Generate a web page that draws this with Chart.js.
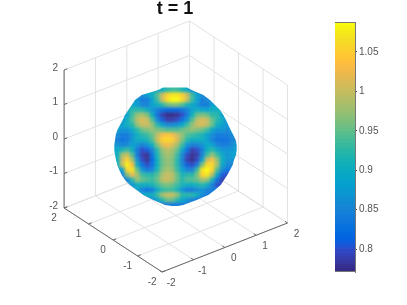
<!DOCTYPE html>
<html>
<head>
<meta charset="utf-8">
<script src="https://cdn.jsdelivr.net/npm/chart.js@4"></script>
<style>
html, body { margin: 0; padding: 0; background: #fff; overflow: hidden; }
canvas { position: absolute; top: 0; }
#scene { left: 0; filter: blur(0.35px); }
#bar { left: 320px; filter: blur(0.35px); }
#ball { position: absolute; left: 0; top: 0; width: 350px; height: 305px; }
#surface { left: 0; filter: blur(1.6px); }
</style>
</head>
<body>
<canvas id="scene" width="350" height="305"></canvas>
<div id="ball"><canvas id="surface" width="350" height="305"></canvas></div>
<canvas id="bar" width="87" height="305"></canvas>
<script>
const titleText = 't = 1';
const axisTicks = [-2, -1, 0, 1, 2];
const colorTicks = [0.8, 0.85, 0.9, 0.95, 1, 1.05];
const colorMin = 0.771;
const colorMax = 1.088;

const parula = [
    [0.2081, 0.1663, 0.5292], [0.2116, 0.1898, 0.5777], [0.2123, 0.2138, 0.6270], [0.2081, 0.2386, 0.6771],
    [0.1959, 0.2645, 0.7279], [0.1707, 0.2919, 0.7792], [0.1253, 0.3242, 0.8303], [0.0591, 0.3598, 0.8683],
    [0.0117, 0.3875, 0.8820], [0.0060, 0.4086, 0.8828], [0.0165, 0.4266, 0.8786], [0.0329, 0.4430, 0.8720],
    [0.0498, 0.4586, 0.8641], [0.0629, 0.4737, 0.8554], [0.0723, 0.4887, 0.8467], [0.0779, 0.5040, 0.8384],
    [0.0793, 0.5200, 0.8312], [0.0749, 0.5375, 0.8263], [0.0641, 0.5570, 0.8240], [0.0488, 0.5772, 0.8228],
    [0.0343, 0.5966, 0.8199], [0.0265, 0.6137, 0.8135], [0.0239, 0.6287, 0.8038], [0.0231, 0.6418, 0.7913],
    [0.0228, 0.6535, 0.7768], [0.0267, 0.6642, 0.7607], [0.0384, 0.6743, 0.7436], [0.0590, 0.6838, 0.7254],
    [0.0843, 0.6928, 0.7062], [0.1133, 0.7015, 0.6859], [0.1453, 0.7098, 0.6646], [0.1801, 0.7177, 0.6424],
    [0.2178, 0.7250, 0.6193], [0.2586, 0.7317, 0.5954], [0.3022, 0.7376, 0.5712], [0.3482, 0.7424, 0.5473],
    [0.3953, 0.7459, 0.5244], [0.4420, 0.7481, 0.5033], [0.4871, 0.7491, 0.4840], [0.5300, 0.7491, 0.4661],
    [0.5709, 0.7485, 0.4494], [0.6099, 0.7473, 0.4337], [0.6473, 0.7456, 0.4188], [0.6834, 0.7435, 0.4044],
    [0.7184, 0.7411, 0.3905], [0.7525, 0.7384, 0.3768], [0.7858, 0.7356, 0.3633], [0.8185, 0.7327, 0.3498],
    [0.8507, 0.7299, 0.3360], [0.8824, 0.7274, 0.3217], [0.9139, 0.7258, 0.3063], [0.9450, 0.7261, 0.2886],
    [0.9739, 0.7314, 0.2666], [0.9938, 0.7455, 0.2403], [0.9990, 0.7653, 0.2164], [0.9955, 0.7861, 0.1967],
    [0.9880, 0.8066, 0.1794], [0.9789, 0.8271, 0.1633], [0.9697, 0.8481, 0.1475], [0.9626, 0.8705, 0.1309],
    [0.9589, 0.8949, 0.1132], [0.9598, 0.9218, 0.0948], [0.9661, 0.9514, 0.0755], [0.9763, 0.9831, 0.0538]
];

// surface colour as seen from the camera, one row per 5px of picture, read by eye
const _ = null;
const surfaceRows = [
    [_, _, _, _, _, _, _, _, .88, .9, .92, .93, .93, .91, .89, .86, _, _, _, _, _, _, _, _, _],
    [_, _, _, _, _, .86, .88, .9, .94, 1.0, 1.05, 1.07, 1.07, 1.05, 1.0, .93, .88, .86, _, _, _, _, _, _, _],
    [_, _, _, _, .87, .84, .84, .88, .93, 1.0, 1.06, 1.085, 1.085, 1.06, 1.0, .93, .88, .84, .86, _, _, _, _, _, _],
    [_, _, _, .88, .88, .85, .85, .88, .9, .92, .95, .96, .96, .94, .91, .89, .87, .84, .84, .88, _, _, _, _, _],
    [_, _, .9, .92, .92, .92, .9, .87, .85, .83, .82, .82, .82, .83, .85, .88, .9, .89, .88, .9, .9, _, _, _, _],
    [_, _, .88, .93, .97, .98, .96, .9, .83, .79, .775, .775, .78, .8, .84, .9, .95, .96, .95, .92, .92, .88, _, _, _],
    [_, .87, .9, .94, .99, 1.01, 1.0, .94, .86, .81, .79, .79, .8, .83, .87, .94, .99, 1.01, 1.0, .95, .92, .9, .86, _, _],
    [_, .88, .9, .92, .97, 1.0, 1.0, .97, .92, .88, .86, .86, .87, .89, .93, .97, 1.0, 1.01, .99, .95, .9, .88, .87, _, _],
    [.88, .87, .87, .89, .92, .95, .96, .97, .96, .95, .94, .94, .94, .95, .96, .97, .96, .95, .93, .89, .87, .87, .86, .87, _],
    [.86, .84, .84, .87, .9, .92, .93, .95, .99, 1.03, 1.04, 1.03, 1.0, .97, .94, .93, .92, .91, .88, .86, .84, .84, .84, .86, _],
    [.85, .83, .84, .87, .9, .9, .91, .94, 1.0, 1.05, 1.06, 1.05, 1.01, .96, .92, .9, .9, .9, .88, .85, .83, .83, .83, .85, _],
    [.87, .85, .86, .88, .87, .85, .87, .9, .96, 1.01, 1.03, 1.01, .98, .93, .87, .85, .85, .87, .89, .88, .85, .84, .84, .86, .88],
    [.89, .91, .93, .9, .84, .8, .81, .85, .92, .97, .99, .98, .95, .89, .83, .79, .8, .84, .9, .92, .89, .87, .87, .87, .88],
    [.9, .98, 1.0, .94, .84, .79, .78, .83, .91, .96, .98, .97, .93, .86, .8, .78, .79, .85, .93, .97, .93, .89, .87, .88, _],
    [.9, 1.0, 1.05, .98, .87, .8, .78, .82, .9, .95, .97, .96, .92, .85, .79, .775, .8, .88, 1.0, 1.03, .97, .9, .87, .87, _],
    [.9, 1.0, 1.08, 1.03, .9, .83, .8, .83, .9, .95, .97, .96, .92, .86, .81, .8, .84, .96, 1.06, 1.06, .98, .89, .86, .85, _],
    [_, .88, 1.05, 1.07, .95, .87, .84, .85, .91, .96, .98, .97, .93, .88, .85, .85, .93, 1.07, 1.085, 1.05, .94, .86, .83, _, _],
    [_, .85, .96, 1.02, .98, .93, .92, .92, .94, .98, 1.0, .99, .95, .91, .92, .92, .96, 1.05, 1.07, .99, .89, .81, .8, _, _],
    [_, _, .85, .92, .97, .95, .94, .93, .95, .99, 1.0, .99, .95, .92, .94, .94, .95, .98, .97, .91, .83, .79, _, _, _],
    [_, _, _, .87, .9, .9, .9, .91, .93, .95, .96, .95, .93, .91, .9, .9, .91, .92, .9, .85, .8, _, _, _, _],
    [_, _, _, _, .88, .85, .83, .84, .89, .92, .93, .93, .91, .87, .84, .84, .86, .87, .85, .84, _, _, _, _, _],
    [_, _, _, _, _, .88, .9, .9, .93, .98, 1.0, 1.0, .97, .92, .92, .92, .9, .86, .84, _, _, _, _, _, _],
    [_, _, _, _, _, _, _, .86, .88, .92, .95, .95, .92, .89, .87, .85, .84, _, _, _, _, _, _, _, _],
    [_, _, _, _, _, _, _, _, _, _, .84, .84, .84, .84, _, _, _, _, _, _, _, _, _, _, _]
];

// silhouette of the ball per row of the list above
const outlineLeft = [158.3, 141.7, 135, 131.7, 128.3, 125, 122.7, 120, 117.3, 115.7, 115, 114.3, 114.3, 115, 116, 117.3, 119.3, 121.7, 125, 130, 136.7, 143.3, 153.3, 165];
const outlineRight = [191.7, 203.3, 210, 215, 220, 223.3, 226, 228.3, 230.7, 233.3, 235.7, 236.7, 236.7, 236, 234, 232.7, 230, 227.3, 224, 220.7, 215, 208.3, 196.7, 183.3];
const outlineTop = 87.5;
const outlineBottom = 206;

// where the cells of the ball sit, in scene units
const surfaceLeft = 117.3;
const surfaceTop = 90;
const cellSize = 5;

// fixed MATLAB style camera (view(3)), gives scene units from data units
function project(x, y, z) {
    return {
        x: 175.8 + 31.35 * x - 24.5 * y,
        y: 215.5 - 12.25 * x - 16 * y - 34.5 * (z + 2)
    };
}

function colorOf(v) {
    var i = Math.floor((v - colorMin) / (colorMax - colorMin) * parula.length);
    i = Math.max(0, Math.min(parula.length - 1, i));
    var c = parula[i];
    return 'rgb(' + Math.round(c[0] * 255) + ',' + Math.round(c[1] * 255) + ',' + Math.round(c[2] * 255) + ')';
}

// grid lines on the two back walls and the floor, null breaks the line
const gridData = [];
function segment(list, a, b) {
    list.push(project(a[0], a[1], a[2]), project(b[0], b[1], b[2]), { x: null, y: null });
}
axisTicks.forEach(function (t) {
    segment(gridData, [t, -2, -2], [t, 2, -2]);
    segment(gridData, [-2, t, -2], [2, t, -2]);
    segment(gridData, [t, 2, -2], [t, 2, 2]);
    segment(gridData, [-2, 2, t], [2, 2, t]);
    segment(gridData, [2, t, -2], [2, t, 2]);
    segment(gridData, [2, -2, t], [2, 2, t]);
});

const axisData = [];
segment(axisData, [-2, 2, -2], [-2, 2, 2]);
segment(axisData, [-2, 2, -2], [-2, -2, -2]);
segment(axisData, [-2, -2, -2], [2, -2, -2]);
axisTicks.forEach(function (t) {
    segment(axisData, [-2, 2, t], [-1.9, 2, t]);
    segment(axisData, [-2, t, -2], [-1.9, t, -2]);
    segment(axisData, [t, -2, -2], [t, -1.9, -2]);
});

// the edge cells are repeated a little past the silhouette so the blur of the
// layer does not fade to white inside the clip
const surfacePoints = [];
const surfaceColors = [];
function addCell(r, c, v) {
    surfacePoints.push({ x: surfaceLeft + c * cellSize, y: surfaceTop + r * cellSize });
    surfaceColors.push(colorOf(v));
}
surfaceRows.forEach(function (row, r) {
    var first = row.findIndex(function (v) { return v !== null; });
    var last = row.length - 1;
    while (row[last] === null) last--;
    for (var k = 1; k <= 3; k++) {
        addCell(r, first - k, row[first]);
        addCell(r, last + k, row[last]);
    }
    row.forEach(function (v, c) {
        if (v === null) return;
        addCell(r, c, v);
        if (r === 0) { addCell(-1, c, v); addCell(-2, c, v); }
        if (r === surfaceRows.length - 1) { addCell(r + 1, c, v); addCell(r + 2, c, v); }
    });
});

// clip the blurred layer to the silhouette
var clipPts = [];
outlineLeft.forEach(function (x, r) { clipPts.push(x + 'px ' + (surfaceTop + r * cellSize) + 'px'); });
clipPts.push('172px ' + outlineBottom + 'px', '178px ' + outlineBottom + 'px');
for (var r = outlineRight.length - 1; r >= 0; r--) {
    clipPts.push(outlineRight[r] + 'px ' + (surfaceTop + r * cellSize) + 'px');
}
clipPts.push('187px ' + outlineTop + 'px', '163px ' + outlineTop + 'px');
document.getElementById('ball').style.clipPath = 'polygon(' + clipPts.join(',') + ')';

const axisLabels = {
    id: 'axisLabels',
    afterDraw: function (chart) {
        var ctx = chart.ctx, sx = chart.scales.x, sy = chart.scales.y;
        ctx.save();
        ctx.font = '10px "Liberation Sans"';
        ctx.fillStyle = '#555';
        ctx.textBaseline = 'middle';
        axisTicks.forEach(function (t) {
            var pz = project(-2, 2, t), py = project(-2, t, -2), px = project(t, -2, -2);
            ctx.textAlign = 'right';
            ctx.fillText(String(t), sx.getPixelForValue(pz.x) - 6, sy.getPixelForValue(pz.y) - 2);
            ctx.textAlign = 'center';
            ctx.fillText(String(t), sx.getPixelForValue(py.x) - 10, sy.getPixelForValue(py.y) + 10);
            ctx.fillText(String(t), sx.getPixelForValue(px.x) + 9, sy.getPixelForValue(px.y) + 11);
        });
        ctx.restore();
    }
};

new Chart(document.getElementById('scene'), {
    type: 'scatter',
    data: {
        datasets: [
            {
                data: axisData,
                showLine: true,
                spanGaps: false,
                borderColor: '#666',
                borderWidth: 1,
                pointRadius: 0,
                order: 1
            },
            {
                data: gridData,
                showLine: true,
                spanGaps: false,
                borderColor: '#e2e2e2',
                borderWidth: 1,
                pointRadius: 0,
                order: 2
            }
        ]
    },
    options: {
        responsive: false,
        animation: false,
        events: [],
        layout: { padding: 0, autoPadding: false },
        plugins: {
            legend: { display: false },
            tooltip: { enabled: false },
            title: {
                display: true,
                text: titleText,
                color: '#111',
                font: { family: '"Liberation Sans"', size: 18, weight: 'bold', lineHeight: 1 },
                padding: 0
            }
        },
        scales: {
            x: { type: 'linear', display: false, min: 0, max: 350 },
            y: { type: 'linear', display: false, reverse: true, min: 18, max: 305 }
        }
    },
    plugins: [axisLabels]
});

new Chart(document.getElementById('surface'), {
    type: 'scatter',
    data: {
        datasets: [{
            data: surfacePoints,
            pointStyle: 'rect',
            pointRadius: 3.7,
            pointBorderWidth: 0,
            pointBackgroundColor: surfaceColors
        }]
    },
    options: {
        responsive: false,
        animation: false,
        events: [],
        layout: { padding: 0, autoPadding: false },
        plugins: { legend: { display: false }, tooltip: { enabled: false } },
        scales: {
            x: { type: 'linear', display: false, min: 0, max: 350 },
            y: { type: 'linear', display: false, reverse: true, min: 0, max: 305 }
        }
    }
});

// colour bar, one floating bar per colormap level
const levelEdges = parula.map(function (c, i) {
    return colorMin + (colorMax - colorMin) * i / parula.length;
});
const barFrame = {
    id: 'barFrame',
    afterDatasetsDraw: function (chart) {
        var a = chart.chartArea;
        chart.ctx.save();
        chart.ctx.strokeStyle = '#777';
        chart.ctx.lineWidth = 1;
        chart.ctx.beginPath();
        chart.ctx.moveTo(a.left, a.top + 0.5);
        chart.ctx.lineTo(a.right, a.top + 0.5);
        chart.ctx.moveTo(a.left, a.bottom - 0.5);
        chart.ctx.lineTo(a.right, a.bottom - 0.5);
        chart.ctx.stroke();
        chart.ctx.restore();
    }
};

new Chart(document.getElementById('bar'), {
    type: 'bar',
    data: {
        labels: ['colour'],
        datasets: parula.map(function (c, i) {
            return {
                data: [[levelEdges[i], i + 1 < levelEdges.length ? levelEdges[i + 1] : colorMax]],
                backgroundColor: colorOf(levelEdges[i] + (colorMax - colorMin) / parula.length / 2),
                borderWidth: 0,
                grouped: false,
                barPercentage: 1,
                categoryPercentage: 1
            };
        })
    },
    options: {
        responsive: false,
        animation: false,
        events: [],
        layout: { padding: { left: 15, top: 22, bottom: 33, right: 0 } },
        plugins: { legend: { display: false }, tooltip: { enabled: false } },
        scales: {
            x: { display: false },
            y: {
                position: 'right',
                min: colorMin,
                max: colorMax,
                afterFit: function (scale) { scale.width = 52; },
                afterBuildTicks: function (scale) {
                    scale.ticks = colorTicks.map(function (v) { return { value: v }; });
                },
                grid: { drawOnChartArea: false, tickLength: 2, tickColor: '#444' },
                border: { color: '#777' },
                ticks: {
                    color: '#555',
                    padding: 2,
                    font: { family: '"Liberation Sans"', size: 10 },
                    callback: function (v) { return String(v); }
                }
            }
        }
    },
    plugins: [barFrame]
});
</script>
</body>
</html>
